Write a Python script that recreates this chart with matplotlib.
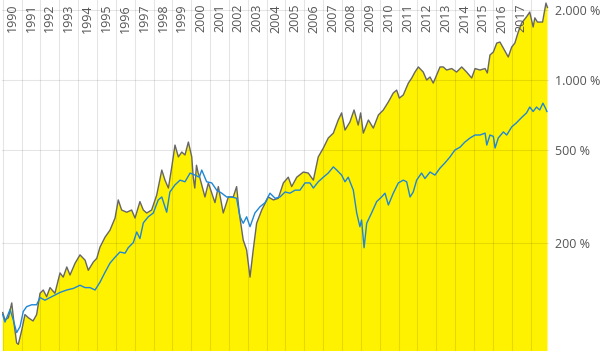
import matplotlib
matplotlib.use("Agg")
import matplotlib.pyplot as plt
import numpy as np

plt.rcParams['font.family'] = ['Open Sans', 'DejaVu Sans']

# Fund (gray line, yellow area) - decimal year, value in %
fund_t = [1990.00, 1990.12, 1990.30, 1990.48, 1990.60, 1990.74, 1990.83, 1991.01, 1991.18, 1991.36,
          1991.61, 1991.80, 1991.98, 1992.15, 1992.33, 1992.51, 1992.77, 1993.04, 1993.21, 1993.40,
          1993.57, 1993.84, 1994.10, 1994.37, 1994.54, 1994.81, 1994.99, 1995.16, 1995.43, 1995.69,
          1995.96, 1996.13, 1996.31, 1996.58, 1996.84, 1997.02, 1997.28, 1997.46, 1997.64, 1997.90,
          1998.17, 1998.44, 1998.61, 1998.79, 1998.97, 1999.14, 1999.32, 1999.50, 1999.67, 1999.85,
          2000.03, 2000.11, 2000.19, 2000.28, 2000.37, 2000.45, 2000.73, 2000.91, 2001.26, 2001.44,
          2001.70, 2001.97, 2002.23, 2002.41, 2002.55, 2002.76, 2002.94, 2003.12, 2003.29, 2003.47,
          2003.74, 2004.09, 2004.36, 2004.62, 2004.89, 2005.15, 2005.33, 2005.60, 2005.95, 2006.21,
          2006.48, 2006.74, 2007.01, 2007.27, 2007.54, 2007.80, 2007.98, 2008.16, 2008.42, 2008.64,
          2008.86, 2008.99, 2009.13, 2009.40, 2009.66, 2009.93, 2010.19, 2010.46, 2010.72, 2010.90,
          2011.04, 2011.25, 2011.52, 2011.70, 2011.87, 2012.05, 2012.31, 2012.49, 2012.67, 2012.84,
          2013.02, 2013.20, 2013.37, 2013.55, 2013.82, 2014.08, 2014.35, 2014.61, 2014.88, 2015.06,
          2015.32, 2015.59, 2015.71, 2015.85, 2016.03, 2016.21, 2016.38, 2016.56, 2016.82, 2017.00,
          2017.17, 2017.35, 2017.53, 2017.79, 2017.96, 2018.14, 2018.23, 2018.37, 2018.64, 2018.82,
          2018.90]
fund_v = [100, 93, 95, 110, 90, 74, 73, 84, 98, 95,
          92, 98, 121, 125, 117, 128, 121, 148, 142, 157,
          145, 163, 177, 168, 152, 165, 171, 191, 211, 226,
          255, 305, 276, 270, 276, 255, 300, 276, 268, 276,
          320, 410, 371, 343, 423, 525, 467, 490, 476, 541,
          467, 380, 343, 430, 398, 382, 314, 361, 297, 348,
          268, 314, 314, 348, 268, 205, 186, 142, 186, 242,
          276, 314, 305, 310, 361, 382, 348, 382, 402, 398,
          371, 467, 510, 563, 591, 673, 722, 609, 660, 743,
          640, 722, 591, 673, 621, 707, 743, 805, 879, 905,
          836, 862, 970, 1020, 1082, 1138, 1082, 1000, 1030, 970,
          1050, 1138, 1138, 1104, 1120, 1082, 1138, 1082, 1020, 1120,
          1104, 1120, 1072, 1281, 1320, 1442, 1456, 1371, 1256, 1385,
          1442, 1609, 1758, 1870, 1960, 1690, 1850, 1775, 1775, 2142,
          2050]

# Benchmark (blue line)
bench_t = [1990.00, 1990.12, 1990.39, 1990.56, 1990.74, 1990.92, 1991.09, 1991.27, 1991.54, 1991.80,
           1991.98, 1992.24, 1992.51, 1992.77, 1993.04, 1993.40, 1993.75, 1994.10, 1994.37, 1994.63,
           1994.90, 1995.16, 1995.43, 1995.69, 1995.96, 1996.22, 1996.49, 1996.66, 1996.93, 1997.11,
           1997.28, 1997.46, 1997.72, 1997.99, 1998.25, 1998.44, 1998.61, 1998.70, 1998.87, 1999.14,
           1999.41, 1999.67, 1999.94, 2000.20, 2000.43, 2000.56, 2000.82, 2001.09, 2001.35, 2001.62,
           2001.88, 2002.15, 2002.41, 2002.59, 2002.76, 2002.94, 2003.12, 2003.38, 2003.65, 2003.92,
           2004.18, 2004.45, 2004.71, 2004.98, 2005.24, 2005.51, 2005.77, 2006.04, 2006.30, 2006.48,
           2006.74, 2007.01, 2007.27, 2007.54, 2007.72, 2007.98, 2008.16, 2008.33, 2008.60, 2008.78,
           2008.95, 2009.04, 2009.17, 2009.31, 2009.57, 2009.84, 2010.10, 2010.28, 2010.46, 2010.72,
           2010.99, 2011.25, 2011.43, 2011.61, 2011.78, 2011.96, 2012.22, 2012.40, 2012.67, 2012.93,
           2013.20, 2013.46, 2013.73, 2013.99, 2014.26, 2014.52, 2014.79, 2015.06, 2015.32, 2015.59,
           2015.68, 2015.85, 2016.03, 2016.12, 2016.29, 2016.56, 2016.74, 2017.00, 2017.26, 2017.53,
           2017.79, 2017.96, 2018.14, 2018.32, 2018.49, 2018.66, 2018.80, 2018.87]
bench_v = [98, 91, 103, 93, 82, 87, 101, 106, 108, 108,
           116, 113, 116, 119, 122, 125, 127, 131, 128, 128,
           125, 135, 149, 163, 173, 182, 180, 190, 200, 222,
           208, 243, 258, 268, 305, 314, 285, 270, 330, 354,
           371, 365, 398, 390, 382, 410, 365, 361, 336, 326,
           314, 314, 310, 258, 242, 258, 234, 268, 285, 297,
           326, 310, 314, 330, 326, 336, 336, 361, 361, 343,
           365, 382, 398, 423, 410, 390, 365, 382, 336, 268,
           234, 250, 190, 242, 268, 300, 314, 326, 290, 326,
           361, 371, 365, 314, 330, 371, 398, 377, 402, 390,
           418, 440, 467, 500, 514, 541, 563, 580, 580, 591,
           525, 580, 572, 510, 563, 598, 580, 628, 655, 690,
           722, 765, 732, 765, 743, 795, 755, 732]

year_labels = [str(y) for y in range(1990, 2018)]
ytick_vals = [200, 500, 1000, 2000]
ytick_labels = ["200 %", "500 %", "1.000 %", "2.000 %"]

W, H = 616, 351
fig = plt.figure(figsize=(W / 100, H / 100), dpi=100)
ax = fig.add_axes([1.5 / W, 0, (548.5 - 1.5) / W, 1])

px_per_year = 18.85
x0 = 2.7
ax.set_xlim(1990 + (1.5 - x0) / px_per_year, 1990 + (548.5 - x0) / px_per_year)
ax.set_yscale('log')
ax.set_ylim(2000 * 2 ** (-341 / 70), 2000 * 2 ** (10 / 70))

yellow = '#fff200'
ax.fill_between(fund_t, fund_v, 1, color=yellow, lw=0, zorder=1)
ax.plot(fund_t, fund_v, color='#666666', lw=1.0, zorder=3)
ax.plot(bench_t, bench_v, color='#1f87d4', lw=1.0, zorder=4)

# grid on top (multiply-like look over yellow)
for y in range(1990, 2019):
    ax.axvline(y, color='black', alpha=0.1, lw=0.8, zorder=2)
for v in ytick_vals:
    ax.axhline(v, color='black', alpha=0.1, lw=0.8, zorder=2)

for lab in year_labels:
    yr = int(lab)
    ax.text(yr + 0.5, 1 - 4 / H, lab, rotation=90, ha='center', va='top',
            transform=ax.get_xaxis_transform(), fontsize=9, color='#555555', zorder=5)

ax.set_yticks(ytick_vals)
ax.set_yticklabels(ytick_labels)
ax.yaxis.set_minor_locator(matplotlib.ticker.NullLocator())
ax.yaxis.tick_right()
ax.tick_params(axis='y', length=0, pad=5, labelsize=9, labelcolor='#555555')
ax.set_xticks([])
for s in ax.spines.values():
    s.set_visible(False)

fig.savefig('out.png', dpi=100)
